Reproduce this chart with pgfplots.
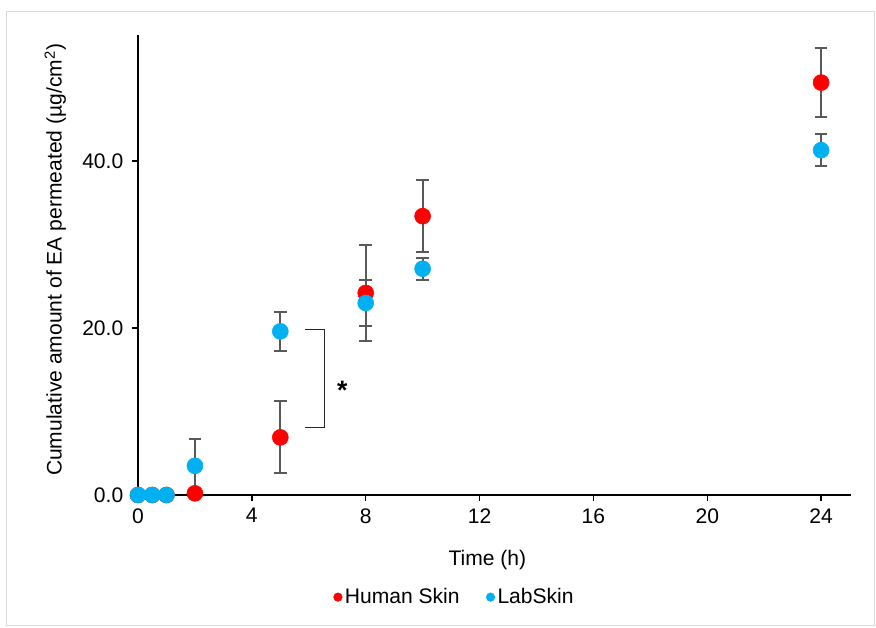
\documentclass[border=0pt]{standalone}
\usepackage{pgfplots}
\pgfplotsset{compat=1.18}
\usepackage{fontspec}
\setmainfont{Liberation Sans}
\definecolor{hred}{HTML}{FF0000}
\definecolor{lblue}{HTML}{00B0F0}
\definecolor{errgray}{HTML}{595959}
\definecolor{frame}{HTML}{D9D9D9}
\newcommand{\chartfont}{\fontsize{15.8}{18}\selectfont}
\begin{document}
\begin{tikzpicture}[x=0.75pt,y=0.75pt]
% outer frame of the chart area (pixels from the axis origin)
\path[use as bounding box] (-138,-133) rectangle (738,495);
\draw[frame, line width=0.75pt] (-131,-131) rectangle (736,483);
\begin{axis}[
    at={(0,0)}, anchor=origin,
    scale only axis,
    width=534.75pt, height=345pt,
    xmin=0, xmax=25.05,
    ymin=0, ymax=55.1,
    axis x line*=bottom, axis y line*=left,
    axis line style={black, line width=1.1pt},
    xtick={0,4,8,12,16,20,24},
    ytick={0,20,40},
    /pgf/number format/assume math mode=true,
    tick style={black, line width=1.1pt},
    tick align=outside,
    major tick length=4.5pt,
    ticklabel style={font=\chartfont},
    xticklabel style={yshift=-2pt},
    yticklabel style={xshift=-3pt, /pgf/number format/.cd, fixed, fixed zerofill, precision=1},
    xlabel={Time (h)},
    ylabel={Cumulative amount of EA permeated (µg/cm\textsuperscript{2})},
    label style={font=\chartfont},
    xlabel style={at={(0.49,-0.141)}, anchor=center},
    ylabel style={at={(-0.116,0.511)}, anchor=center},
    legend style={at={(0.4446,-0.222)}, anchor=center, draw=none,
        legend columns=2, font=\chartfont,
        /tikz/every even column/.append style={column sep=18pt}},
    legend image code/.code={\draw[#1, mark size=3.2pt] plot coordinates {(0.2em,0)};},
    clip=false,
]
\addplot[only marks, mark=*, mark size=6pt, color=hred, mark options={draw=hred, fill=hred},
    error bars/.cd, y dir=both, y explicit,
    error bar style={errgray, line width=1.5pt},
    error mark options={errgray, rotate=90, mark size=4.75pt, line width=1.5pt}]
coordinates {
    (0,0) +- (0,0)
    (0.5,0) +- (0,0)
    (1,0) +- (0,0)
    (2,0.2) +- (0,0.1)
    (5,6.9) +- (0,4.3)
    (8,24.2) +- (0,5.7)
    (10,33.4) +- (0,4.3)
    (24,49.4) +- (0,4.1)
};
\addlegendentry{Human Skin}
\addplot[only marks, mark=*, mark size=6pt, color=lblue, mark options={draw=lblue, fill=lblue},
    error bars/.cd, y dir=both, y explicit,
    error bar style={errgray, line width=1.5pt},
    error mark options={errgray, rotate=90, mark size=4.75pt, line width=1.5pt}]
coordinates {
    (0,0) +- (0,0)
    (0.5,0) +- (0,0)
    (1,0) +- (0,0)
    (2,3.5) +- (0,3.2)
    (5,19.6) +- (0,2.3)
    (8,23.0) +- (0,2.8)
    (10,27.1) +- (0,1.3)
    (24,41.3) +- (0,1.9)
};
\addlegendentry{LabSkin}
% significance bracket
\draw[black!85, line width=0.9pt] (axis cs:5.85,19.8) -- (axis cs:6.55,19.8) -- (axis cs:6.55,8.1) -- (axis cs:5.85,8.1);
\node[font=\fontsize{20}{20}\selectfont\bfseries, anchor=center] at (axis cs:7.18,12.5) {*};
\end{axis}
\end{tikzpicture}
\end{document}
